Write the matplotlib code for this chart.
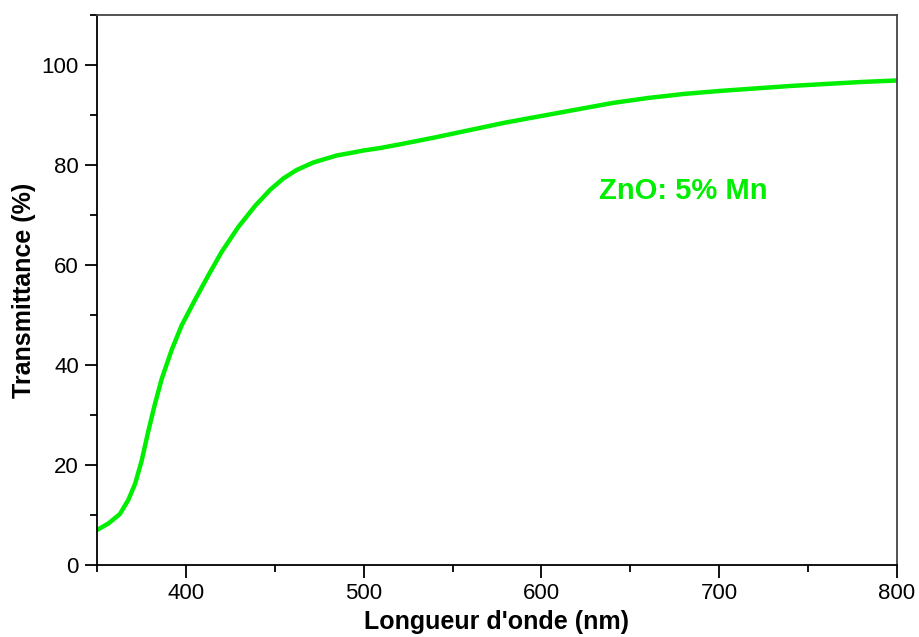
import numpy as np
import matplotlib
matplotlib.use("Agg")
import matplotlib.pyplot as plt
from matplotlib.ticker import MultipleLocator

# transmittance curve
wavelength = [350, 356.4, 362.9, 367.6, 371.4, 375.1, 378.9, 382.6, 386.4, 392,
              397.6, 405.1, 412.6, 420.1, 429.5, 438.9, 447.3, 454.8, 462.3,
              471.7, 484.8, 494.2, 500, 509.4, 520, 540, 560, 580, 600, 620,
              640, 660, 680, 700, 720, 740, 760, 780, 800]
transmittance = [7.0, 8.3, 10.2, 13.0, 16.2, 20.8, 26.8, 32.2, 37.2, 43.0,
                 47.9, 53.0, 57.9, 62.6, 67.6, 71.8, 75.0, 77.3, 79.0,
                 80.5, 81.9, 82.5, 82.9, 83.4, 84.1, 85.5, 87.0, 88.5, 89.8, 91.1,
                 92.4, 93.4, 94.2, 94.8, 95.3, 95.8, 96.2, 96.6, 96.9]
label = "ZnO: 5% Mn"

plt.rcParams['font.family'] = ['Liberation Sans', 'DejaVu Sans']

fig = plt.figure(figsize=(9.2, 6.37), dpi=100)
ax = fig.add_axes([0.1054, 0.113, 0.8696, 0.8635])

ax.plot(wavelength, transmittance, color='#00ee00', lw=3.2,
        solid_joinstyle='round')
ax.text(680, 74.7, label, color='#00ee00', fontsize=21, fontweight='bold',
        ha='center', va='center')

ax.set_xlim(350, 800)
ax.set_ylim(0, 110)
ax.xaxis.set_major_locator(MultipleLocator(100))
ax.xaxis.set_minor_locator(MultipleLocator(50))
ax.yaxis.set_minor_locator(MultipleLocator(10))
ax.set_yticks([0, 20, 40, 60, 80, 100])

ax.tick_params(which='major', direction='out', length=9, width=1.3, labelsize=16, pad=4)
ax.tick_params(which='minor', direction='out', length=5, width=1.3)
ax.tick_params(top=False, right=False, which='both')
for s in ax.spines.values():
    s.set_linewidth(1.3)
ax.spines['top'].set_color('#444444')
ax.spines['right'].set_color('#444444')

ax.set_xlabel("Longueur d'onde (nm)", fontsize=18, fontweight='bold', labelpad=4)
ax.set_ylabel("Transmittance (%)", fontsize=18, fontweight='bold', labelpad=4)

fig.savefig("out.png", dpi=100)
